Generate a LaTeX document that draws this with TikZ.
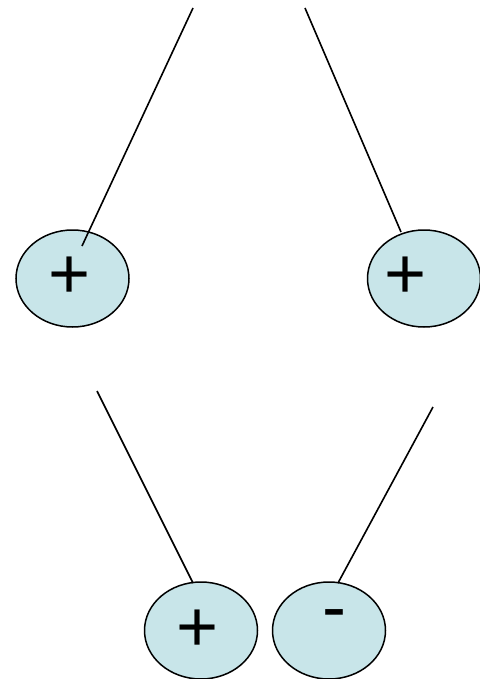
\documentclass[tikz,border=0pt]{standalone}
\usepackage{fontspec}
\setmainfont{Liberation Sans}
\usetikzlibrary{shapes.geometric}
\definecolor{ballfill}{RGB}{200,229,233}
\begin{document}
\begin{tikzpicture}[x=1pt,y=-1pt,
  ball/.style={ellipse,draw=black,line width=1.5pt,fill=ballfill,minimum width=113pt,minimum height=97pt,inner sep=0pt},
  sign/.style={inner sep=0pt,font=\fontsize{72}{72}\selectfont},
  wire/.style={line width=1.6pt}]
\useasboundingbox (0,0) rectangle (479,679);
\node[ball] (b1) at (72.5,278.5) {};
\node[ball] (b2) at (424,278.5) {};
\node[ball] (b3) at (201,630.5) {};
\node[ball] (b4) at (329,630.5) {};
\node[sign] (s1) at (70,278) {+};
\node[sign] (s2) at (406,278) {+};
\node[sign] (s3) at (198,631) {+};
\node[sign] (s4) at (334,621) {-};
\coordinate (t1) at (193,8);
\coordinate (e1) at (82,246);
\coordinate (t2) at (305,8);
\coordinate (e2) at (401,232);
\coordinate (t3) at (97,391);
\coordinate (e3) at (193,583);
\coordinate (t4) at (433,407);
\coordinate (e4) at (338,583);
\draw[wire] (t1) -- (e1);
\draw[wire] (t2) -- (e2);
\draw[wire] (t3) -- (e3);
\draw[wire] (t4) -- (e4);
\end{tikzpicture}
\end{document}
